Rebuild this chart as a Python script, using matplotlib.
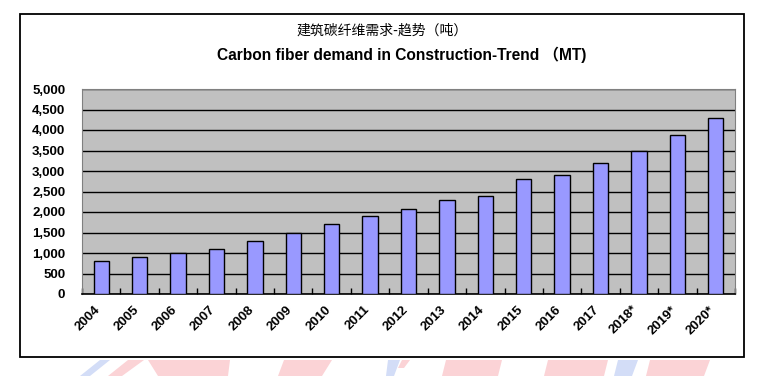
import matplotlib.pyplot as plt
import matplotlib.patches as patches
import matplotlib.ticker as plticker
import matplotlib.transforms as mtransforms

# Chart data
years = ['2004', '2005', '2006', '2007', '2008', '2009', '2010', '2011', '2012',
         '2013', '2014', '2015', '2016', '2017', '2018*', '2019*', '2020*']
demand = [800, 900, 1000, 1100, 1300, 1500, 1700, 1900, 2070,
          2300, 2400, 2800, 2900, 3200, 3500, 3880, 4300]
title_cn = '建筑碳纤维需求-趋势（吨）'
title_en = 'Carbon fiber demand in Construction-Trend （MT)'

W, H = 781, 376
fig = plt.figure(figsize=(W / 100, H / 100), dpi=100)
plt.rcParams['font.family'] = ['Liberation Sans', 'Noto Sans CJK SC', 'DejaVu Sans']


def px(x, y):
    # pixel position (from top-left) -> figure fraction
    return x / W, 1 - y / H


# faint watermark shapes at the bottom edge
red = '#fbd3d6'
blue = '#d3ddf7'
shapes = [
    (blue, [(100, 360), (110, 360), (90, 376), (80, 376)]),
    (red, [(128, 360), (144, 360), (122, 376), (108, 376)]),
    (red, [(148, 360), (230, 360), (228, 376), (158, 376)]),
    (red, [(284, 360), (332, 360), (322, 376), (278, 376)]),
    (blue, [(388, 360), (400, 360), (394, 376), (386, 376)]),
    (red, [(402, 360), (410, 360), (404, 368), (398, 368)]),
    (red, [(446, 360), (502, 360), (498, 376), (442, 376)]),
    (red, [(548, 360), (608, 360), (604, 376), (544, 376)]),
    (blue, [(618, 360), (638, 360), (632, 376), (614, 376)]),
    (red, [(650, 360), (710, 360), (704, 376), (646, 376)]),
]
for col, pts in shapes:
    fig.patches.append(patches.Polygon([px(x, y) for x, y in pts], closed=True,
                                       facecolor=col, edgecolor='none',
                                       transform=fig.transFigure, zorder=0))

# outer frame
x0, y0 = px(20, 357)
x1, y1 = px(744, 14)
fig.patches.append(patches.Rectangle((x0, y0), x1 - x0, y1 - y0, fill=False,
                                     edgecolor='black', linewidth=1.3,
                                     transform=fig.transFigure, zorder=1))

# titles
fig.text(*px(382, 31), title_cn, ha='center', va='center', fontsize=10,
         family=['Noto Sans CJK SC', 'DejaVu Sans'])
fig.text(*px(402, 55), title_en, ha='center', va='center', fontsize=11.2,
         fontweight='bold', family=['Liberation Sans', 'Noto Sans CJK SC'])

# plot area
l, b = px(82, 294)
r, t = px(735, 89)
ax = fig.add_axes([l, b, r - l, t - b])
ax.set_facecolor('#c0c0c0')

xs = range(len(years))
ax.bar(xs, demand, width=0.4, color='#9999ff', edgecolor='black',
       linewidth=1, zorder=3)

ax.set_xlim(-0.5, len(years) - 0.5)
ax.set_ylim(0, 5000)
ax.yaxis.set_major_locator(plticker.MultipleLocator(500))
ax.yaxis.set_major_formatter(plticker.StrMethodFormatter('{x:,.0f}'))
ax.grid(axis='y', color='black', linewidth=1, zorder=1)
ax.set_axisbelow(True)

ax.set_xticks(list(xs))
ax.set_xticklabels(years, rotation=45, ha='right', rotation_mode='anchor')
ax.set_xticks([i - 0.5 for i in range(len(years) + 1)], minor=True)
ax.tick_params(axis='x', which='major', length=0, pad=7)
ax.tick_params(axis='x', which='minor', direction='in', length=4, width=1,
               color='black')
ax.tick_params(axis='y', length=0, pad=12)
shift = mtransforms.ScaledTranslation(-7 / 100, 0, fig.dpi_scale_trans)
for lab in ax.get_xticklabels():
    lab.set_transform(lab.get_transform() + shift)
for lab in ax.get_xticklabels() + ax.get_yticklabels():
    lab.set_fontsize(9.5)
    lab.set_fontweight('bold')

for side in ['left', 'top', 'right']:
    ax.spines[side].set_color('#808080')
ax.spines['bottom'].set_color('black')
ax.spines['bottom'].set_linewidth(1.2)

fig.savefig('out.png', dpi=100)
